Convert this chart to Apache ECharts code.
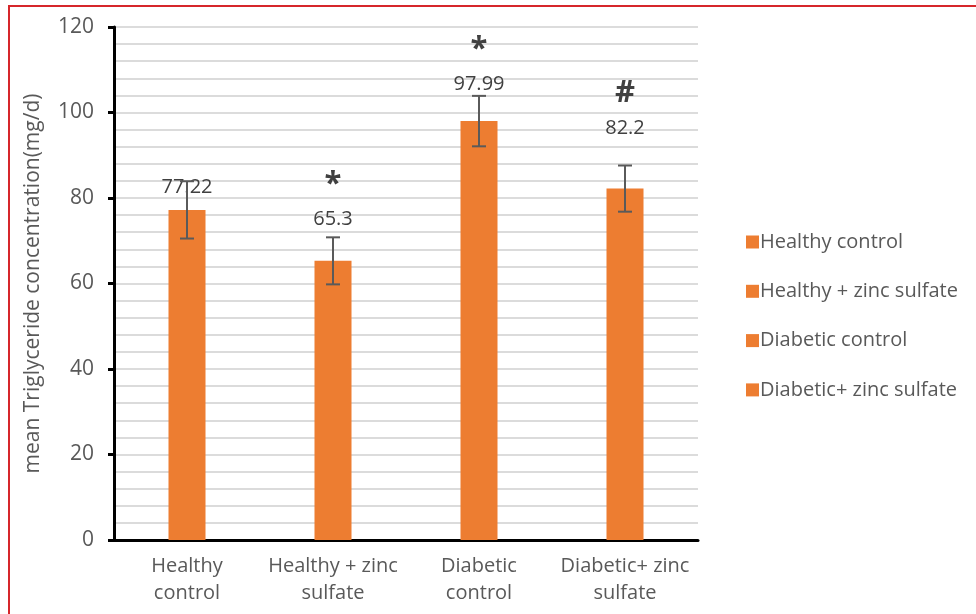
<!DOCTYPE html>
<html><head><meta charset="utf-8">
<script src="https://cdn.jsdelivr.net/npm/echarts@6/dist/echarts.min.js"></script>
<style>html,body{margin:0;padding:0;background:#fff}#c{width:976px;height:614px}</style>
</head><body><div id="c"></div>
<script>
const categories = ['Healthy control', 'Healthy + zinc sulfate', 'Diabetic control', 'Diabetic+ zinc sulfate'];
const axisLabels = ['Healthy\ncontrol', 'Healthy + zinc\nsulfate', 'Diabetic\ncontrol', 'Diabetic+ zinc\nsulfate'];
const values = [77.22, 65.3, 97.99, 82.2];
const errors = [6.7, 5.5, 5.9, 5.4];
const marks = ['', '*', '*', '#'];
const yTicks = [0, 20, 40, 60, 80, 100, 120];

const FONT = 'Open Sans';
const labelDist = [12, 31, 26, 49];
const orange = '#ED7D31';

const barSeries = categories.map((name, i) => ({
  name: name,
  type: 'bar',
  stack: 'all',
  barWidth: 37,
  itemStyle: { color: orange },
  data: categories.map((_, j) => j === i ? values[i] : '-'),
  label: {
    show: true,
    position: 'top',
    distance: labelDist[i],
    formatter: p => marks[i] ? '{m|' + marks[i] + '}\n{v|' + p.value + '}' : '{v|' + p.value + '}',
    rich: {
      m: { fontFamily: FONT, fontSize: 31, fontWeight: 'bold', color: '#404040', lineHeight: 48, align: 'center' },
      v: { fontFamily: FONT, fontSize: 20, color: '#404040', lineHeight: 22, align: 'center' }
    }
  },
  z: 2
}));

const errSeries = {
  type: 'custom',
  name: 'err',
  data: values.map((v, i) => [i, v, errors[i]]),
  renderItem: function (params, api) {
    const x = api.value(0), v = api.value(1), e = api.value(2);
    const hi = api.coord([x, v + e]), lo = api.coord([x, v - e]);
    const w = 7;
    const st = { stroke: '#5a5a5a', lineWidth: 2 };
    return {
      type: 'group',
      children: [
        { type: 'line', shape: { x1: hi[0], y1: hi[1], x2: lo[0], y2: lo[1] }, style: st },
        { type: 'line', shape: { x1: hi[0] - w, y1: hi[1], x2: hi[0] + w, y2: hi[1] }, style: st },
        { type: 'line', shape: { x1: lo[0] - w, y1: lo[1], x2: lo[0] + w, y2: lo[1] }, style: st }
      ]
    };
  },
  z: 5
};

const chart = echarts.init(document.getElementById('c'));
chart.setOption({
  animation: false,
  backgroundColor: '#fff',
  textStyle: { fontFamily: FONT },
  grid: { left: 114, right: 278, top: 27, bottom: 74 },
  legend: {
    orient: 'vertical',
    left: 741,
    top: 227,
    itemWidth: 13,
    itemHeight: 13,
    itemGap: 29.3,
    icon: 'rect',
    data: categories,
    textStyle: { fontFamily: FONT, fontSize: 20, color: '#595959', padding: [0, 0, 0, -4] }
  },
  xAxis: {
    type: 'category',
    data: categories,
    axisLine: { lineStyle: { color: '#000', width: 3 } },
    axisTick: { show: false },
    axisLabel: {
      interval: 0,
      formatter: (v, i) => axisLabels[i],
      fontFamily: FONT, fontSize: 20, color: '#595959', lineHeight: 27, margin: 13
    }
  },
  yAxis: {
    type: 'value',
    min: 0, max: 120, interval: 20,
    name: 'mean Triglyceride concentration(mg/d)',
    nameLocation: 'middle',
    nameGap: 70,
    nameTextStyle: { fontFamily: FONT, fontSize: 21, color: '#595959' },
    axisLine: { show: true, lineStyle: { color: '#000', width: 3 } },
    axisTick: { show: true, length: 6, lineStyle: { color: '#000', width: 3 } },
    axisLabel: {
      fontFamily: FONT, fontSize: 21, color: '#595959', margin: 20,
      formatter: v => yTicks.indexOf(v) >= 0 ? String(v) : ''
    },
    splitLine: { show: true, lineStyle: { color: '#d0d0d0', width: 1.5 } },
    minorTick: { show: false, splitNumber: 5 },
    minorSplitLine: { show: true, lineStyle: { color: '#d0d0d0', width: 1.5 } }
  },
  graphic: [
    { type: 'line', shape: { x1: 8, y1: 6, x2: 976, y2: 6 }, style: { stroke: '#d6262b', lineWidth: 2 }, z: 10 },
    { type: 'line', shape: { x1: 9, y1: 5, x2: 9, y2: 614 }, style: { stroke: '#d6262b', lineWidth: 2 }, z: 10 }
  ],
  series: barSeries.concat([errSeries])
});
</script></body></html>
